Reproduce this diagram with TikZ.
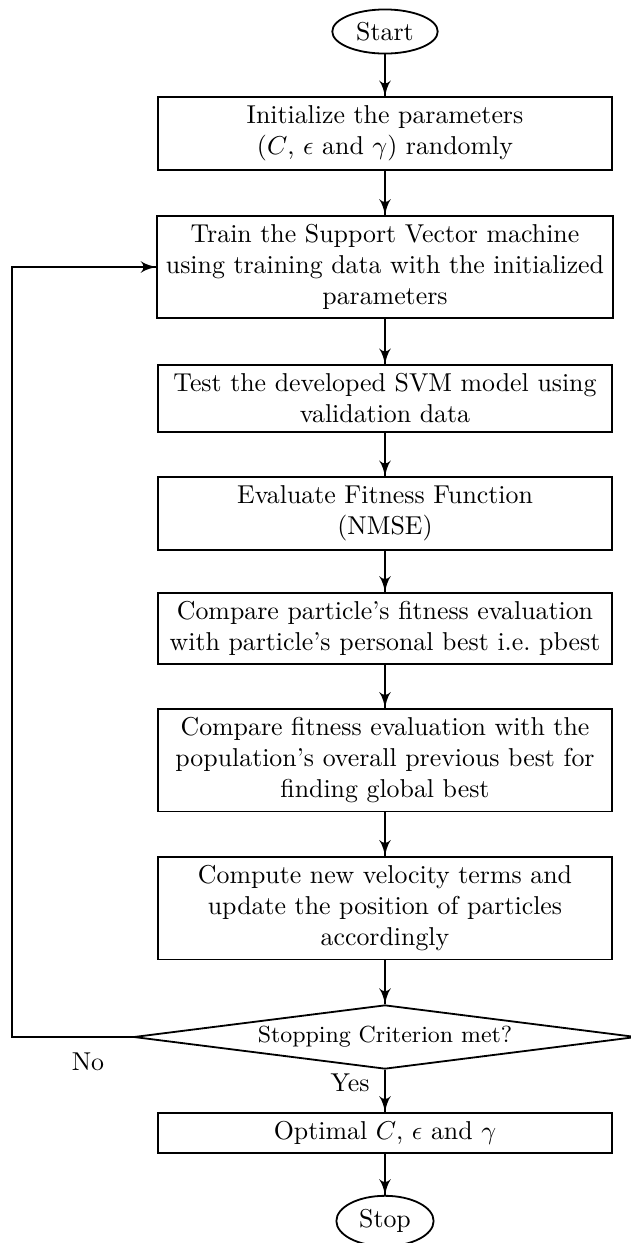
\documentclass[tikz,border=0pt]{standalone}
\usepackage{amsmath}
\usepackage{amssymb}
\usepackage{tikz}
\usetikzlibrary{arrows}
\usetikzlibrary{decorations.markings}
\usetikzlibrary{shapes.geometric}
\tikzset{->/.style = {decoration={markings,
                                  mark=at position 1 with {\arrow[scale=1.25]{latex'}}},
                      postaction={decorate}}}
\tikzset{process/.style = {draw, align=center, minimum width=175.7pt},
         terminal/.style = {draw, ellipse, inner xsep=3.3pt, inner ysep=2.4pt},
         decision/.style = {draw, diamond, aspect=7.8, inner sep=0pt,
                            minimum width=194.5pt, minimum height=24.8pt, font=\small}}

\begin{document}
\begin{tikzpicture}[x=0.387pt, y=-0.387pt, line width=0.7pt]
      \useasboundingbox (0, 0) rectangle (631, 1243);
      \node [terminal] (start) at (385, 31.5) {Start};
      \node [process] (init) at (385, 133.5) {Initialize the parameters\\ ($C$, $\epsilon$ and $\gamma$) randomly};
      \node [process] (train) at (385, 267) {Train the Support Vector machine\\ using training data with the initialized\\ parameters};
      \node [process] (test) at (385, 398.5) {Test the developed SVM model using\\ validation data};
      \node [process] (fitness) at (385, 513.5) {Evaluate Fitness Function\\ (NMSE)};
      \node [process] (pbest) at (385, 628.5) {Compare particle's fitness evaluation\\ with particle's personal best i.e.\ pbest};
      \node [process] (gbest) at (385, 760) {Compare fitness evaluation with the\\ population's overall previous best for\\ finding global best};
      \node [process] (update) at (385, 908) {Compute new velocity terms and\\ update the position of particles\\ accordingly};
      \node [decision] (check) at (385, 1037) {Stopping Criterion met?};
      \node [process] (optimal) at (385, 1133) {Optimal $C$, $\epsilon$ and $\gamma$};
      \node [terminal] (stop) at (385, 1221) {Stop};
      \coordinate (corner) at (12, 1037);
      \node (no) at (88, 1062) {No};
      \node (yes) at (350, 1083) {Yes};
      \draw [->] (start) -- (init);
      \draw [->] (init) -- (train);
      \draw [->] (train) -- (test);
      \draw [->] (test) -- (fitness);
      \draw [->] (fitness) -- (pbest);
      \draw [->] (pbest) -- (gbest);
      \draw [->] (gbest) -- (update);
      \draw [->] (update) -- (check);
      \draw [->] (check) -- (optimal);
      \draw [->] (optimal) -- (stop);
      \draw [->] (check.west) -- (corner) |- (train.west);
    \end{tikzpicture}
\end{document}
